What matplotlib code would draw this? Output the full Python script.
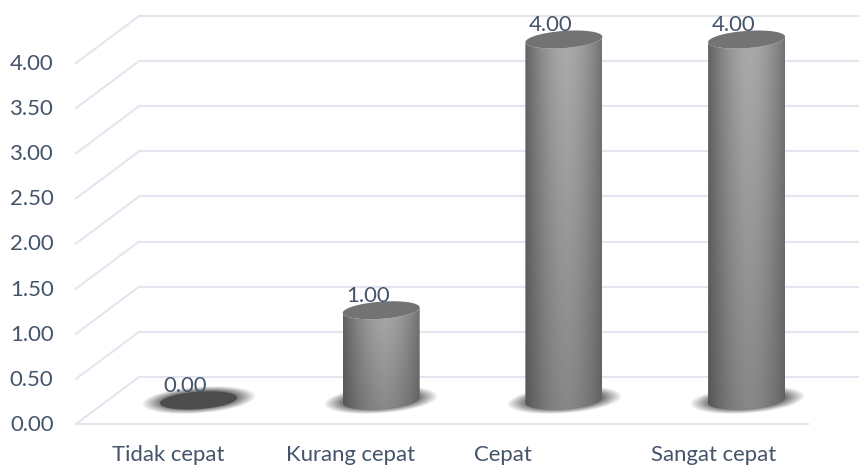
import numpy as np
import matplotlib
matplotlib.use("Agg")
import matplotlib.pyplot as plt
from matplotlib.patches import Polygon

plt.rcParams["font.family"] = ["Lato", "DejaVu Sans"]

categories = ["Tidak cepat", "Kurang cepat", "Cepat", "Sangat cepat"]
values = [0.0, 1.0, 4.0, 4.0]
value_labels = ["0.00", "1.00", "4.00", "4.00"]
y_ticks = [0.0, 0.5, 1.0, 1.5, 2.0, 2.5, 3.0, 3.5, 4.0]
y_tick_labels = ["0.00", "0.50", "1.00", "1.50", "2.00", "2.50", "3.00", "3.50", "4.00"]
# the labels are not centred on the bars in the original
cat_label_shift = [-0.165, -0.17, -0.335, -0.178]

W, H = 859, 467
PX_X0, PX_DX = 198.5, 182.7      # pixel of category 0, pixels per category
PX_Y0, PX_DY = 400.5, 90.25      # pixel of value 0 (bar plane), pixels per unit
TEXT = "#44546a"
GRID = "#e3e6ee"
FS = 15.9

dx = 1.0 / PX_DX
dy = 1.0 / PX_DY
x_left = -PX_X0 * dx
y_bottom = -(H - PX_Y0) * dy

fig = plt.figure(figsize=(W / 100, H / 100), dpi=100)
ax = fig.add_axes([0, 0, 1, 1])
ax.axis("off")

# 3d floor and walls, offsets measured from the bar plane
front_dy, back_dy = -23.5 * dy, 23.5 * dy
front_l, front_r = x_left + 76 * dx, x_left + 808 * dx
back_l, back_r = x_left + 139 * dx, x_left + 859 * dx

for v in y_ticks:
    ax.plot([back_l, back_r], [v + back_dy] * 2, color=GRID, lw=1.5, zorder=1)
    ax.plot([front_l, back_l], [v + front_dy, v + back_dy], color=GRID, lw=1.5, zorder=1)
ax.plot([front_l, front_r], [front_dy] * 2, color=GRID, lw=1.5, zorder=1)


def ellipse(cx, cy, t):
    # sheared ellipse, sizes in pixels
    a, b, slope = 38.5, 8.6, 0.07
    return cx + a * np.cos(t) * dx, cy + (a * slope * np.cos(t) + b * np.sin(t)) * dy


def draw_shadow(cx, cy):
    xs = np.linspace(cx - 75 * dx, cx + 75 * dx, 150)
    ys = np.linspace(cy - 26 * dy, cy + 26 * dy, 60)
    xx, yy = np.meshgrid(xs, ys)
    u = (xx - cx) / dx
    w = (yy - cy) / dy - 0.07 * u
    r = np.sqrt((u / 55) ** 2 + (w / 13) ** 2)
    rgba = np.zeros(xx.shape + (4,))
    rgba[..., :3] = 0.28
    rgba[..., 3] = np.clip((1.05 - r) / 0.42, 0, 1) * 0.88
    ax.imshow(rgba, extent=[xs[0], xs[-1], ys[0], ys[-1]], origin="lower",
              aspect="auto", zorder=2, interpolation="bilinear")


def draw_bar(i, v):
    draw_shadow(i, 0)
    tt = np.linspace(0, 2 * np.pi, 120)
    if v > 0:
        lower = np.linspace(np.pi, 2 * np.pi, 60)
        bx, by = ellipse(i, 0, lower)
        tx, ty = ellipse(i, v, lower[::-1])
        outline = np.column_stack([np.r_[bx, tx], np.r_[by, ty]])
        clip = Polygon(outline, closed=True, transform=ax.transData, fc="none", ec="none")
        ax.add_patch(clip)

        xs = np.linspace(-1, 1, 120)
        ys = np.linspace(0, 1, 50)
        uu, vv = np.meshgrid(xs, ys)
        shade = np.clip(1 - np.abs(uu - 0.08) ** 1.7 / 1.35, 0, 1)
        top = 0.33 + (0.67 - 0.33) * shade
        bottom = 0.30 + (0.53 - 0.30) * shade
        img = bottom + (top - bottom) * vv
        y0, y1 = -12 * dy, v + 12 * dy
        im = ax.imshow(img, extent=[i - 38.5 * dx, i + 38.5 * dx, y0, y1], origin="lower",
                       aspect="auto", cmap="gray", vmin=0, vmax=1, zorder=3,
                       interpolation="bilinear")
        im.set_clip_path(clip)
        cap_color = "#737373"
    else:
        cap_color = "#4d4d4d"
    cx, cy = ellipse(i, v, tt)
    ax.fill(cx, cy, color=cap_color, lw=0, zorder=4)


for i, v in enumerate(values):
    draw_bar(i, v)
    ax.text(i - 13 * dx, v + 14.5 * dy, value_labels[i], color=TEXT, fontsize=FS,
            ha="center", va="center", zorder=5)

for v, lab in zip(y_ticks, y_tick_labels):
    ax.text(x_left + 53.5 * dx, v + front_dy - 1 * dy, lab, color=TEXT, fontsize=FS,
            ha="right", va="center")

for i, lab in enumerate(categories):
    ax.text(i + cat_label_shift[i], -(455 - PX_Y0) * dy, lab, color=TEXT, fontsize=FS,
            ha="center", va="center")

ax.set_xlim(x_left, x_left + W * dx)
ax.set_ylim(y_bottom, y_bottom + H * dy)

fig.savefig("out.png", dpi=100, facecolor="white")
